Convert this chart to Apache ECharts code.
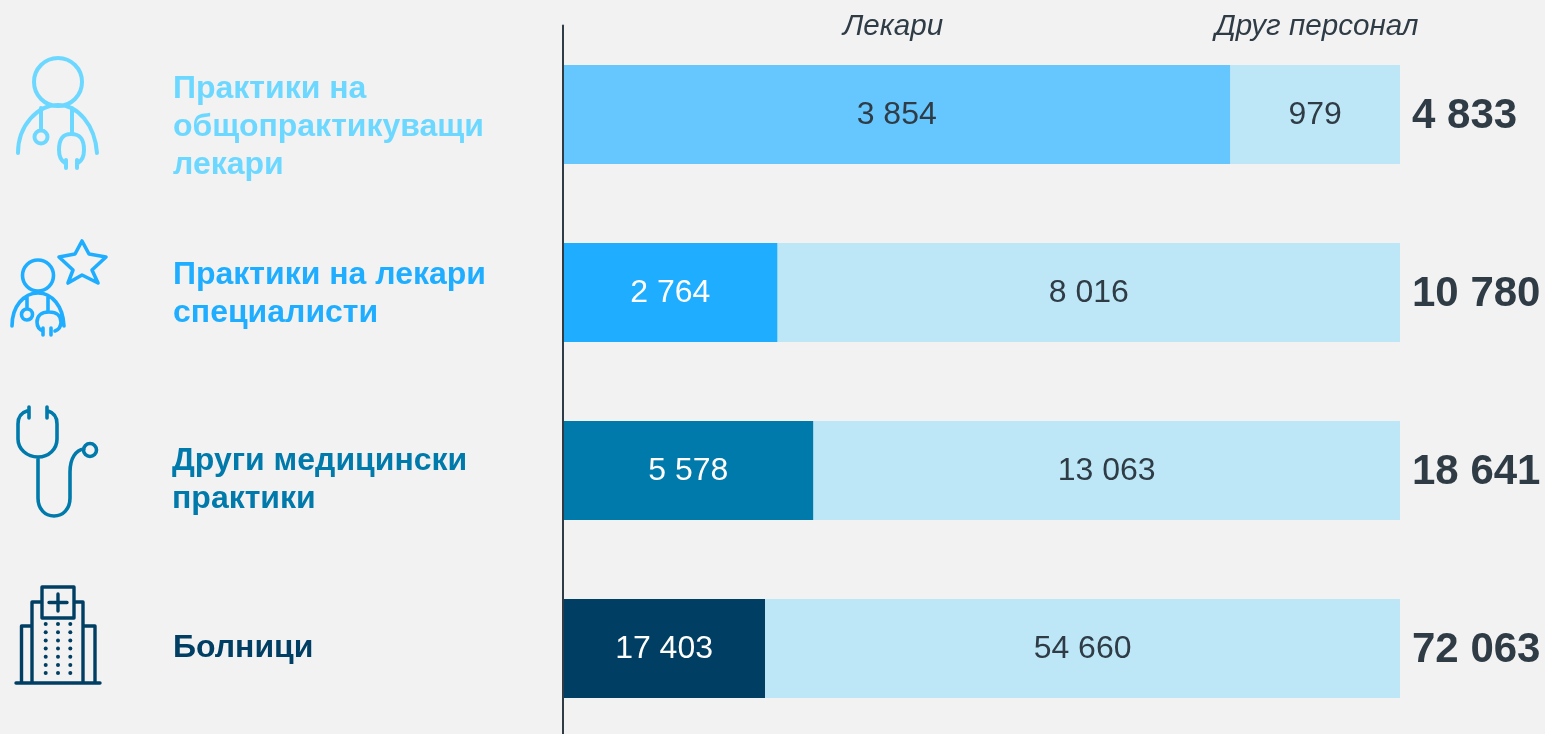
<!DOCTYPE html>
<html lang="bg" style="height: 100%">

<head>
  <meta charset="utf-8">
</head>

<body style="height: 100%; margin: 0; background: #f2f2f2">
  <div id="container" style="height: 100%"></div>
  <script src="https://fastly.jsdelivr.net/npm/echarts@6/dist/echarts.min.js"></script>
  <script>
    const categories = [
      'Практики на\nобщопрактикуващи\nлекари',
      'Практики на лекари\nспециалисти',
      'Други медицински\nпрактики',
      'Болници'
    ]
    const doctors = [3854, 2764, 5578, 17403]
    const otherStaff = [979, 8016, 13063, 54660]
    const totals = [4833, 10780, 18641, 72063]
    const barColors = ['#66c7ff', '#1faeff', '#0079ab', '#003f63']
    const textColors = ['#6dd8ff', '#1faeff', '#0079ab', '#003f63']
    const doctorLabelColors = ['#2f3c46', '#ffffff', '#ffffff', '#ffffff']
    // the category blocks do not sit exactly on the bar centres
    const labelCentres = [127, 294, 480.5, 648]
    const iconStrokes = [4, 3.600, 3.600, 3.400]

    const fmt = v => String(v).replace(/\B(?=(\d{3})+$)/g, ' ')
    const share = (v, i) => v / totals[i] * 100
    const FONT = '"Liberation Sans", Arial, sans-serif'
    const INK = '#2f3c46'

    // outline icons, page pixels
    const iconPaths = [
      'M58 58a24 24 0 1 0 .01 0Z M18 153C18 125 38 105 58 105C78 105 95 125 97 153 M41 108V130 M41 130.500a6.500 6.500 0 1 0 .01 0Z M72 108V134 M65 163C60 160 59 155 59 150C59 140 62 134 71 134C81 134 84 140 84 150C84 155 83 160 78 163 M66 160V168 M77 160V168',
      'M38 260a15.500 15.500 0 1 0 .01 0Z M12 326C12 306 24 293 38 293C52 293 63 306 64 326 M27 296V309 M27 309a5.500 5.500 0 1 0 .01 0Z M48 297V312 M43 331C38 329 37 325 37 322C37 316 41 312 49 312C57 312 61 316 61 322C61 325 60 329 55 331 M43 328V335 M51 328V335 M82 241L89 254L106 257L92 270L98 283L82 275L68 283L73 270L59 257L75 254Z',
      'M29 407V418 M47 407V418 M27 411C20 413 18 419 18 424V439C18 449 27 457 38 457C49 457 57 449 57 439V424C57 419 55 413 48 411 M38 457V498C38 509 45 516 54 516C63 516 70 509 70 498V472C70 458 76 450 84 449 M90 443.500a6.500 6.500 0 1 0 .01 0Z',
      'M16 683H100 M21.500 683V626H32 M32 683V602H42 M42 587H74V618H42Z M74 602H83V683 M83 626H95V683 M58 594V611 M49 602.500H67'
    ]

    const dots = []
    for (const cy of [624, 632.200, 640.400, 648.500, 656.700, 664.900, 673]) {
      for (const cx of [45.700, 58, 70.300]) {
        dots.push({
          type: 'circle',
          shape: { cx, cy, r: 2 },
          style: { fill: barColors[3] }
        })
      }
    }

    var dom = document.getElementById('container');
    var myChart = echarts.init(dom, null, { renderer: 'canvas' });

    var option = {
      backgroundColor: '#f2f2f2',
      animation: false,
      textStyle: { fontFamily: FONT },
      grid: { left: 563, top: 25.5, width: 837, height: 712, outerBoundsMode: 'none' },
      xAxis: { type: 'value', min: 0, max: 100, show: false },
      yAxis: [
        {
          type: 'category',
          inverse: true,
          z: 3,
          data: categories,
          axisTick: { show: false },
          axisLabel: { show: false },
          axisLine: { lineStyle: { color: '#2f3c46', width: 2 } }
        },
        {
          type: 'category',
          inverse: true,
          position: 'right',
          data: totals.map(fmt),
          axisTick: { show: false },
          axisLine: { show: false },
          axisLabel: {
            align: 'left',
            margin: 12,
            formatter: v => `{total|${v}}`,
            rich: {
              total: {
                padding: [3, 0, 0, 0],
                fontSize: 42,
                fontWeight: 'bold',
                fontFamily: FONT,
                color: INK
              }
            }
          }
        }
      ],
      graphic: [
        ...categories.map((c, i) => ({
          type: 'text',
          x: i === 2 ? 172 : 173,
          y: labelCentres[i],
          style: {
            text: c,
            font: 'bold 32px ' + FONT,
            lineHeight: 38,
            fill: textColors[i],
            verticalAlign: 'middle'
          }
        })),
        {
          type: 'text', left: 843, top: 12,
          style: { text: 'Лекари', font: 'italic 29.600px ' + FONT, fill: INK }
        },
        {
          type: 'text', left: 1215, top: 12,
          style: { text: 'Друг персонал', font: 'italic 29.600px ' + FONT, fill: INK }
        }
      ],
      series: [
        {
          name: 'Лекари',
          type: 'bar',
          stack: 'share',
          barWidth: 99,
          data: doctors.map((v, i) => ({
            value: share(v, i),
            itemStyle: { color: barColors[i] },
            label: { color: doctorLabelColors[i] }
          })),
          label: {
            show: true,
            position: 'inside',
            offset: [0, 1],
            fontSize: 32,
            fontFamily: FONT,
            formatter: p => fmt(doctors[p.dataIndex])
          }
        },
        {
          name: 'Друг персонал',
          type: 'bar',
          stack: 'share',
          barWidth: 99,
          itemStyle: { color: '#bde7f7' },
          data: otherStaff.map(share),
          label: {
            show: true,
            position: 'inside',
            offset: [0, 1],
            fontSize: 32,
            fontFamily: FONT,
            color: INK,
            formatter: p => fmt(otherStaff[p.dataIndex])
          }
        },
        {
          type: 'custom',
          coordinateSystem: 'none',
          silent: true,
          data: [0, 1, 2, 3],
          renderItem: (params) => {
            const i = params.dataIndex
            const children = [{
              type: 'path',
              shape: { pathData: iconPaths[i] },
              style: { fill: 'none', stroke: textColors[i], lineWidth: iconStrokes[i], lineCap: 'round', lineJoin: 'round' }
            }]
            return { type: 'group', children: i === 3 ? children.concat(dots) : children }
          }
        }
      ]
    };

    myChart.setOption(option);
    window.addEventListener('resize', myChart.resize);
  </script>
</body>

</html>
